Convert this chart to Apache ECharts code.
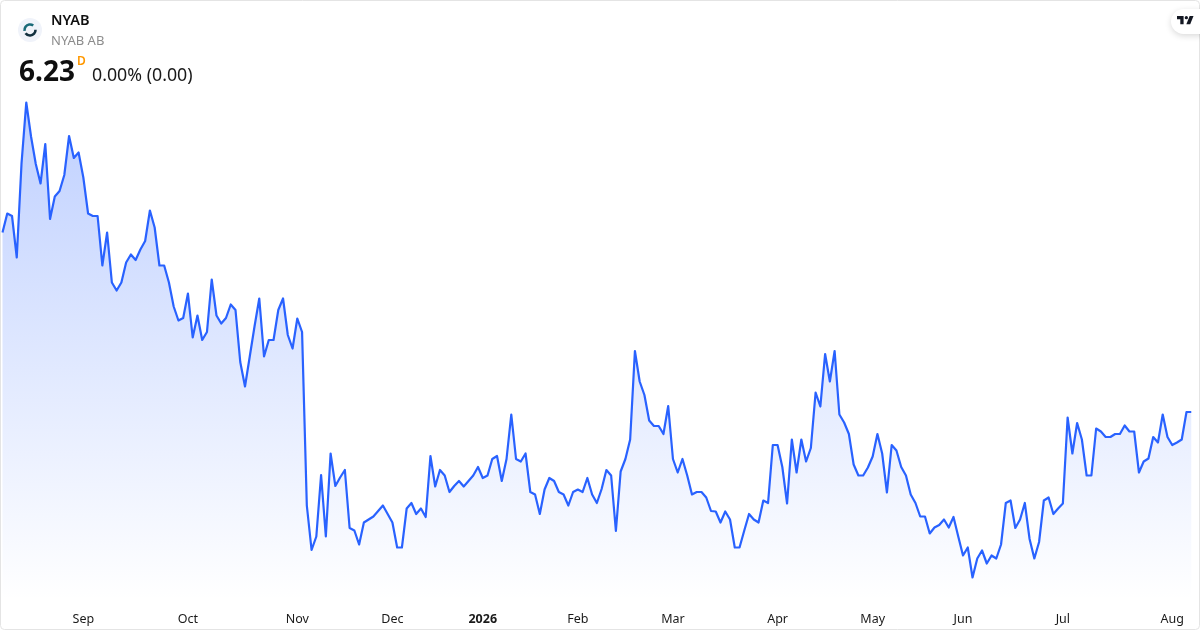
<!DOCTYPE html>
<html>
<head>
<meta charset="utf-8">
<style>html,body{margin:0;padding:0;background:#fff}#c{width:1200px;height:630px}</style>
<script src="https://cdn.jsdelivr.net/npm/echarts@6/dist/echarts.min.js"></script>
</head>
<body>
<div id="c"></div>
<script>
const prices = [
9.82,10.20,10.15,9.32,11.20,12.42,11.74,11.19,10.80,11.59,
10.09,10.54,10.65,10.97,11.75,11.31,11.42,10.92,10.20,10.15,
10.15,9.16,9.82,8.82,8.66,8.82,9.22,9.38,9.27,9.48,
9.65,10.26,9.92,9.16,9.16,8.82,8.34,8.06,8.11,8.60,
7.72,8.16,7.67,7.83,8.88,8.16,8.00,8.11,8.38,8.27,
7.23,6.74,7.34,7.94,8.50,7.34,7.67,7.67,8.27,8.50,
7.77,7.50,8.10,7.83,4.36,3.47,3.74,4.97,3.74,5.40,
4.75,4.92,5.07,3.91,3.86,3.58,4.02,4.08,4.14,4.25,
4.36,4.19,4.02,3.52,3.52,4.30,4.41,4.19,4.30,4.13,
5.35,4.74,5.07,4.96,4.63,4.75,4.85,4.74,4.85,4.96,
5.13,4.91,4.96,5.29,5.35,4.85,5.29,6.18,5.29,5.24,
5.40,4.63,4.58,4.19,4.68,4.91,4.85,4.63,4.58,4.36,
4.63,4.68,4.63,4.91,4.58,4.41,4.69,5.07,4.96,3.85,
5.04,5.29,5.68,7.45,6.84,6.57,6.06,5.95,5.95,5.79,
6.35,5.29,5.02,5.29,4.96,4.58,4.63,4.63,4.52,4.25,
4.24,4.02,4.24,4.08,3.52,3.52,3.86,4.19,4.08,4.02,
4.46,4.41,5.57,5.57,5.13,4.40,5.68,5.02,5.68,5.24,
5.51,6.62,6.34,7.39,6.84,7.45,6.18,6.02,5.79,5.18,
4.96,4.96,5.12,5.34,5.79,5.40,4.62,5.57,5.46,5.13,
4.96,4.58,4.41,4.14,4.14,3.80,3.92,3.97,4.08,3.92,
4.13,3.74,3.36,3.52,2.92,3.30,3.46,3.20,3.36,3.30,
3.58,4.41,4.46,3.91,4.08,4.41,3.69,3.30,3.63,4.46,
4.52,4.19,4.30,4.40,6.12,5.40,6.01,5.68,4.96,4.96,
5.90,5.84,5.73,5.73,5.79,5.79,5.96,5.84,5.84,5.02,
5.24,5.30,5.73,5.62,6.18,5.73,5.57,5.62,5.68,6.23,
6.23
];
const tickLabels  = ['Sep','Oct','Nov','Dec','2026','Feb','Mar','Apr','May','Jun','Jul','Aug'];
const tickIndices = [17,39,62,82,101,121,141,163,183,202,223,246];

const categories = prices.map((_, i) => {
  const k = tickIndices.indexOf(i);
  return k >= 0 ? tickLabels[k] : '';
});

const FONT = '"Noto Sans", sans-serif';
const chart = echarts.init(document.getElementById('c'), null, {renderer: 'canvas'});
chart.setOption({
  animation: false,
  backgroundColor: '#ffffff',
  grid: {left: 2.5, right: 8.75, top: 100, height: 500},
  xAxis: {
    type: 'category',
    data: categories,
    boundaryGap: false,
    axisLine: {show: false},
    axisTick: {show: false},
    splitLine: {show: false},
    axisLabel: {
      interval: (i, v) => v !== '',
      margin: 12.5,
      color: '#1a1a1a',
      fontFamily: FONT,
      fontSize: 12.5,
      hideOverlap: false,
      formatter: v => v === '2026' ? '{y|2026}' : v,
      rich: {y: {fontWeight: 'bold', fontSize: 12.5, color: '#1a1a1a', fontFamily: FONT}}
    }
  },
  yAxis: {type: 'value', min: 2.47, max: 12.47, show: false},
  series: [{
    type: 'line',
    data: prices,
    symbol: 'none',
    smooth: false,
    lineStyle: {color: '#2962ff', width: 2.2, join: 'round'},
    areaStyle: {
      opacity: 1,
      color: {type: 'linear', x: 0, y: 0, x2: 0, y2: 1, colorStops: [
        {offset: 0, color: 'rgba(41,98,255,0.3)'},
        {offset: 1, color: 'rgba(41,98,255,0)'}
      ]}
    }
  }],
  graphic: [
    {type: 'rect', silent: true, z: 100, shape: {x: 0.5, y: 0.5, width: 1199, height: 629, r: 4},
     style: {fill: 'none', stroke: '#e4e4e4', lineWidth: 1}},
    {type: 'circle', z: 100, shape: {cx: 30, cy: 30, r: 12}, style: {fill: '#f0f3fa'}},
    {type: 'arc', z: 101, shape: {cx: 30, cy: 30, r: 5.5, startAngle: Math.PI * 0.95, endAngle: Math.PI * 1.7},
     style: {stroke: '#1a6a78', lineWidth: 2.6, fill: 'none'}},
    {type: 'arc', z: 101, shape: {cx: 30, cy: 30, r: 5.5, startAngle: -0.05, endAngle: Math.PI * 0.8},
     style: {stroke: '#12303f', lineWidth: 2.6, fill: 'none'}},
    {type: 'text', z: 100, x: 51, y: 21, style: {text: 'NYAB', font: '600 14.5px "Noto Sans", sans-serif', fill: '#0f0f0f', textVerticalAlign: 'middle'}},
    {type: 'text', z: 100, x: 51, y: 41, style: {text: 'NYAB AB', font: '13px "Noto Sans", sans-serif', fill: '#8c8c8c', textVerticalAlign: 'middle'}},
    {type: 'text', z: 100, x: 19, y: 73, style: {text: '6.23', font: '700 28px "Noto Sans", sans-serif', fill: '#0f0f0f', textVerticalAlign: 'middle'}},
    {type: 'text', z: 100, x: 77, y: 62, style: {text: 'D', font: '600 12px "Noto Sans", sans-serif', fill: '#ff9800', textVerticalAlign: 'middle'}},
    {type: 'text', z: 100, x: 92, y: 76, style: {text: '0.00% (0.00)', font: '17.8px "Noto Sans", sans-serif', fill: '#1a1a1a', textVerticalAlign: 'middle'}},
    {type: 'rect', z: 100, shape: {x: 1171, y: 9, width: 40, height: 25, r: 12.5},
     style: {fill: '#fff', shadowBlur: 6, shadowColor: 'rgba(0,0,0,0.15)', shadowOffsetY: 2}},
    {type: 'polygon', z: 101, shape: {points: [[1177,16],[1183.6,16],[1183.6,24.25],[1180.3,24.25],[1180.3,19.3],[1177,19.3]]}, style: {fill: '#131722'}},
    {type: 'polygon', z: 101, shape: {points: [[1190.2,24.25],[1186.35,24.25],[1189.65,16],[1193.5,16]]}, style: {fill: '#131722'}},
    {type: 'circle', z: 101, shape: {cx: 1186.35, cy: 17.65, r: 1.65}, style: {fill: '#131722'}}
  ]
});
</script>
</body>
</html>
